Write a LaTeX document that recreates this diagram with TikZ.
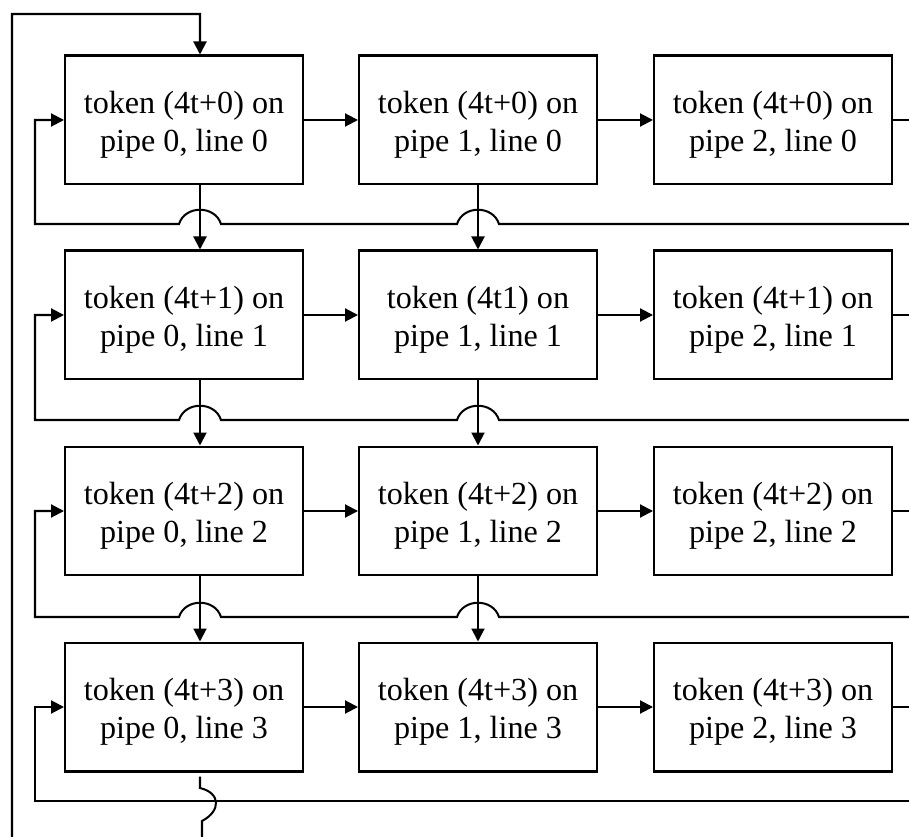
\documentclass[tikz,border=0pt]{standalone}
\usepackage{fontspec}
\setmainfont{Liberation Serif}
\usetikzlibrary{arrows.meta}

\begin{document}
\begin{tikzpicture}[x=0.02cm, y=-0.02cm, line width=1.15pt,
  >={Triangle[length=7.4pt,width=7.4pt]},
  tokenbox/.style={draw, inner sep=0pt, minimum width=4.76cm, minimum height=2.58cm,
    align=center, font=\fontsize{18.3}{22}\selectfont,
    execute at begin node=\rule{0pt}{40pt}}]
\useasboundingbox (0,0) rectangle (909,837);
% line 0
\node[tokenbox] (p0l0) at (184,120) {token (4t+0) on\\pipe 0, line 0};
\node[tokenbox] (p1l0) at (478,120) {token (4t+0) on\\pipe 1, line 0};
\node[tokenbox] (p2l0) at (773,120) {token (4t+0) on\\pipe 2, line 0};
% line 1
\node[tokenbox] (p0l1) at (184,315) {token (4t+1) on\\pipe 0, line 1};
\node[tokenbox] (p1l1) at (478,315) {token (4t1) on\\pipe 1, line 1};
\node[tokenbox] (p2l1) at (773,315) {token (4t+1) on\\pipe 2, line 1};
% line 2
\node[tokenbox] (p0l2) at (184,511) {token (4t+2) on\\pipe 0, line 2};
\node[tokenbox] (p1l2) at (478,511) {token (4t+2) on\\pipe 1, line 2};
\node[tokenbox] (p2l2) at (773,511) {token (4t+2) on\\pipe 2, line 2};
% line 3
\node[tokenbox] (p0l3) at (184,707) {token (4t+3) on\\pipe 0, line 3};
\node[tokenbox] (p1l3) at (478,707) {token (4t+3) on\\pipe 1, line 3};
\node[tokenbox] (p2l3) at (773,707) {token (4t+3) on\\pipe 2, line 3};

% loose ends at the border
\coordinate (o0) at (909,120);
\coordinate (o1) at (909,315);
\coordinate (o2) at (909,511);
\coordinate (o3) at (909,707);
\coordinate (e0) at (909,224);
\coordinate (e1) at (909,420);
\coordinate (e2) at (909,617);
\coordinate (e3) at (909,801);
\coordinate (loopin) at (12,837);
\coordinate (top) at (200,14);
\coordinate (loopout) at (202,837);

% along each line
\draw[->] (p0l0.east) -- (p1l0.west);
\draw[->] (p1l0.east) -- (p2l0.west);
\draw (p2l0.east) -- (o0);
\draw[->] (p0l1.east) -- (p1l1.west);
\draw[->] (p1l1.east) -- (p2l1.west);
\draw (p2l1.east) -- (o1);
\draw[->] (p0l2.east) -- (p1l2.west);
\draw[->] (p1l2.east) -- (p2l2.west);
\draw (p2l2.east) -- (o2);
\draw[->] (p0l3.east) -- (p1l3.west);
\draw[->] (p1l3.east) -- (p2l3.west);
\draw (p2l3.east) -- (o3);

% down to the next line
\draw[->] ([xshift=0.32cm]p0l0.south) -- ([xshift=0.32cm]p0l1.north);
\draw[->] ([xshift=0.32cm]p0l1.south) -- ([xshift=0.32cm]p0l2.north);
\draw[->] ([xshift=0.32cm]p0l2.south) -- ([xshift=0.32cm]p0l3.north);
\draw[->] (p1l0.south) -- (p1l1.north);
\draw[->] (p1l1.south) -- (p1l2.north);
\draw[->] (p1l2.south) -- (p1l3.north);

% feedback with hops
\draw[->] (e0) -- (499,224) .. controls (493,205) and (463,205) .. (457,224)
  -- (221,224) .. controls (215,205) and (185,205) .. (179,224) -- (35,224) |- (p0l0.west);
\draw[->] (e1) -- (499,420) .. controls (493,401) and (463,401) .. (457,420)
  -- (221,420) .. controls (215,401) and (185,401) .. (179,420) -- (35,420) |- (p0l1.west);
\draw[->] (e2) -- (499,617) .. controls (493,598) and (463,598) .. (457,617)
  -- (221,617) .. controls (215,598) and (185,598) .. (179,617) -- (35,617) |- (p0l2.west);
\draw[->] (e3) -- (35,801) |- (p0l3.west);

% outer loop
\draw[->] (loopin) |- (top) -- ([xshift=0.32cm]p0l0.north);
\draw ([xshift=0.32cm,yshift=-0.08cm]p0l3.south) -- (200,788)
  .. controls (221,793) and (221,811) .. (202,821) -- (loopout);
\end{tikzpicture}
\end{document}
